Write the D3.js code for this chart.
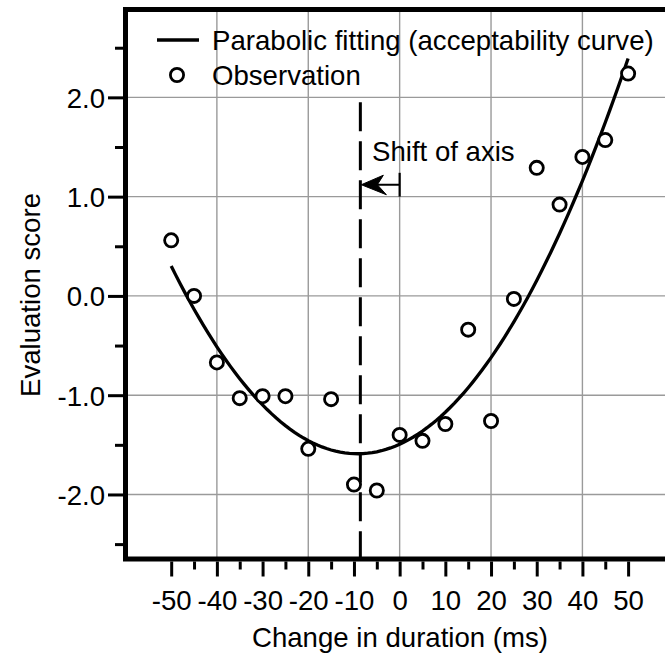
<!DOCTYPE html>
<html>
<head>
<meta charset="utf-8">
<script src="https://cdn.jsdelivr.net/npm/d3@7"></script>
<style>
  html, body { margin: 0; padding: 0; background: #fff; }
  svg { display: block; font-family: "Liberation Sans", Arial, Helvetica, sans-serif; }
</style>
</head>
<body>
<svg id="chart" width="665" height="656"></svg>
<script>
// Observed evaluation scores per change in duration (ms)
const durations = [-50, -45, -40, -35, -30, -25, -20, -15, -10, -5, 0, 5, 10, 15, 20, 25, 30, 35, 40, 45, 50];
const scores    = [0.56, 0.00, -0.67, -1.03, -1.01, -1.01, -1.54, -1.04, -1.90, -1.96, -1.40, -1.46, -1.29, -0.34, -1.26, -0.03, 1.29, 0.92, 1.40, 1.57, 2.24];

// Parabolic fit (acceptability curve), vertex form: a * (x - h)^2 + k
const fitCurvature = [0.001136];
const fitVertex = [-9.2, -1.59];
const fitRange = [-50, 50];

// Shifted axis marker and its arrow
const axisShift = [-8.6];
const axisShiftTop = [1.95];
const arrowLevel = [1.12];
const arrowBar = [1.0, 1.24];

// Axis ticks
const xMajorTicks = [-50, -40, -30, -20, -10, 0, 10, 20, 30, 40, 50];
const xMinorTicks = [-45, -35, -25, -15, -5, 5, 15, 25, 35, 45];
const xGrid = [-40, -20, 0, 20, 40];
const yMajorTicks = [-2, -1, 0, 1, 2];
const yMinorTicks = [-2.5, -1.5, -0.5, 0.5, 1.5, 2.5];
const yGrid = [-2, -1, 0, 1, 2];

const xLabel = "Change in duration (ms)";
const yLabel = "Evaluation score";
const legendItems = ["Parabolic fitting (acceptability curve)", "Observation"];
const annotationText = "Shift of axis";

const svg = d3.select("#chart");
const fontSize = 27.6;

const x = d3.scaleLinear().domain([-60, 60]).range([125.5, 673.8]);
const y = d3.scaleLinear().domain([-2.65, 2.885]).range([559, 9.5]);

const plotLeft = x.range()[0], plotRight = x.range()[1];
const plotTop = y.range()[1], plotBottom = y.range()[0];

// Grid
const grid = svg.append("g").attr("stroke", "#9a9a9a").attr("stroke-width", 1.4);
grid.selectAll("line.gx").data(xGrid).join("line")
  .attr("x1", d => x(d)).attr("x2", d => x(d))
  .attr("y1", plotTop).attr("y2", plotBottom);
grid.selectAll("line.gy").data(yGrid).join("line")
  .attr("x1", plotLeft).attr("x2", plotRight)
  .attr("y1", d => y(d)).attr("y2", d => y(d));

// Axes with outward ticks
const minus = s => s.replace("\u2212", "-");
const xAxisMajor = d3.axisBottom(x).tickValues(xMajorTicks).tickSize(15).tickFormat(d => minus(d3.format("d")(d)));
const xAxisMinor = d3.axisBottom(x).tickValues(xMinorTicks).tickSize(8).tickFormat("");
const yAxisMajor = d3.axisLeft(y).tickValues(yMajorTicks).tickSize(15).tickFormat(d => minus(d3.format(".1f")(d)));
const yAxisMinor = d3.axisLeft(y).tickValues(yMinorTicks).tickSize(8).tickFormat("");

function styleAxis(g) {
  g.select(".domain").remove();
  g.selectAll(".tick line").attr("stroke", "#000").attr("stroke-width", 3);
  g.selectAll(".tick text").attr("fill", "#000").attr("font-size", fontSize)
    .attr("font-family", "Liberation Sans, Arial, sans-serif");
}

svg.append("g").attr("transform", `translate(0,${plotBottom + 2.5})`).call(xAxisMajor).call(styleAxis)
  .selectAll(".tick text").attr("y", 48.5).attr("dy", 0);
svg.append("g").attr("transform", `translate(0,${plotBottom + 2.5})`).call(xAxisMinor).call(styleAxis);
svg.append("g").attr("transform", `translate(${plotLeft - 2.5},0)`).call(yAxisMajor).call(styleAxis)
  .selectAll(".tick text").attr("x", -18).attr("dy", "0.36em");
svg.append("g").attr("transform", `translate(${plotLeft - 2.5},0)`).call(yAxisMinor).call(styleAxis);

// Frame
svg.append("rect")
  .attr("x", plotLeft).attr("y", plotTop)
  .attr("width", plotRight - plotLeft).attr("height", plotBottom - plotTop)
  .attr("fill", "none").attr("stroke", "#000").attr("stroke-width", 5);

// Shifted axis (dashed)
svg.append("line")
  .attr("x1", x(axisShift[0])).attr("x2", x(axisShift[0]))
  .attr("y1", y(axisShiftTop[0])).attr("y2", plotBottom)
  .attr("stroke", "#000").attr("stroke-width", 3)
  .attr("stroke-dasharray", "29,10");

// Fitted parabola
const fit = v => fitCurvature[0] * (v - fitVertex[0]) ** 2 + fitVertex[1];
const curveX = d3.range(fitRange[0], fitRange[1] + 0.5, 1);
svg.append("path")
  .datum(curveX)
  .attr("d", d3.line().x(d => x(d)).y(d => y(fit(d))))
  .attr("fill", "none").attr("stroke", "#000").attr("stroke-width", 3.3);

// Observations
svg.append("g").selectAll("circle").data(durations).join("circle")
  .attr("cx", d => x(d)).attr("cy", (d, i) => y(scores[i]))
  .attr("r", 6.6).attr("fill", "#fff").attr("stroke", "#000").attr("stroke-width", 2.8);

// Annotation: arrow from zero to the shifted axis
const ay = y(arrowLevel[0]);
const x0 = x(0), xs = x(axisShift[0]);
svg.append("line").attr("x1", x0).attr("x2", x0)
  .attr("y1", y(arrowBar[0])).attr("y2", y(arrowBar[1]))
  .attr("stroke", "#000").attr("stroke-width", 2.2);
svg.append("line").attr("x1", x0).attr("x2", xs + 6).attr("y1", ay).attr("y2", ay)
  .attr("stroke", "#000").attr("stroke-width", 2);
svg.append("path")
  .attr("d", `M${xs + 1},${ay} L${xs + 23},${ay - 9.5} L${xs + 17},${ay} L${xs + 26},${ay + 10} Z`)
  .attr("fill", "#000").attr("stroke", "#000").attr("stroke-width", 1);
svg.append("text").attr("x", 372).attr("y", 161)
  .attr("font-size", fontSize).attr("fill", "#000").text(annotationText);

// Legend
const lg = svg.append("g");
lg.append("line").attr("x1", 157).attr("x2", 199).attr("y1", 40).attr("y2", 40)
  .attr("stroke", "#000").attr("stroke-width", 3.5);
lg.append("circle").attr("cx", 177).attr("cy", 75).attr("r", 6.6)
  .attr("fill", "#fff").attr("stroke", "#000").attr("stroke-width", 2.8);
lg.selectAll("text").data(legendItems).join("text")
  .attr("x", 212).attr("y", (d, i) => 50 + i * 35)
  .attr("font-size", fontSize).attr("fill", "#000").text(d => d);

// Axis titles
svg.append("text").attr("x", 400).attr("y", 647).attr("text-anchor", "middle")
  .attr("font-size", fontSize).attr("fill", "#000").text(xLabel);
svg.append("text").attr("transform", "translate(40,295) rotate(-90)").attr("text-anchor", "middle")
  .attr("font-size", fontSize).attr("fill", "#000").text(yLabel);
</script>
</body>
</html>
